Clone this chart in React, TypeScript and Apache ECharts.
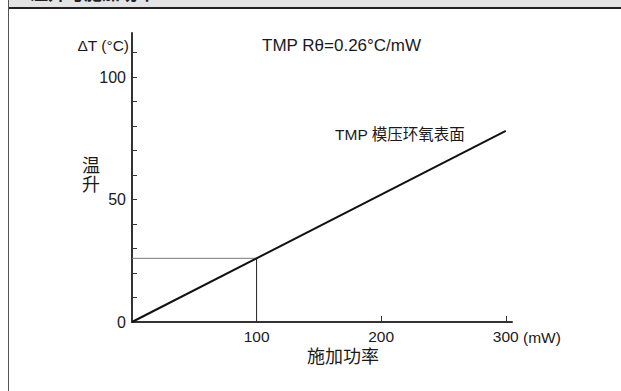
import React, { useEffect, useRef } from "react";
import * as echarts from "echarts";

const lineX: number[] = [0, 300];
const lineY: number[] = [0, 78];
const guideHX: number[] = [0, 100];
const guideHY: number[] = [26, 26];
const guideVX: number[] = [100, 100];
const guideVY: number[] = [26, 0];
const yTickValues: number[] = [0, 10, 20, 30, 40, 50, 60, 70, 80, 90, 100, 110];
const yLabelValues: number[] = [0, 50, 100];
const xTickValues: number[] = [200, 300];
const xLabelValues: number[] = [100, 200, 300];

const FONT = "'Liberation Sans', Arial, 'Noto Sans CJK SC', sans-serif";
const TXT = "#1a1a1a";

export default function App() {
  const ref = useRef<HTMLDivElement>(null);
  useEffect(() => {
    if (!ref.current) return;
    const chart = echarts.init(ref.current, null, { renderer: "svg" });
    const zip = (xs: number[], ys: number[]) => xs.map((x, i) => [x, ys[i]]);
    chart.setOption({
      animation: false,
      backgroundColor: "#ffffff",
      textStyle: { fontFamily: FONT },
      grid: { left: 132, top: 33, width: 380, height: 289, containLabel: false },
      xAxis: {
        type: "value",
        min: 0,
        max: 305,
        splitLine: { show: false },
        axisLine: { show: true, lineStyle: { color: "#333", width: 2 } },
        axisTick: { show: true, inside: true, length: 6, customValues: xTickValues, lineStyle: { color: "#333", width: 1 } },
        axisLabel: { customValues: xLabelValues, color: TXT, fontSize: 15.5, fontFamily: FONT, margin: 7 },
      },
      yAxis: {
        type: "value",
        min: 0,
        max: 118,
        splitLine: { show: false },
        axisLine: { show: true, lineStyle: { color: "#333", width: 2 } },
        axisTick: { show: true, inside: true, length: 5, customValues: yTickValues, lineStyle: { color: "#333", width: 1 } },
        axisLabel: { customValues: yLabelValues, color: TXT, fontSize: 16, fontFamily: FONT, margin: 6 },
      },
      series: [
        {
          type: "line",
          data: zip(guideHX, guideHY),
          symbol: "none",
          silent: true,
          lineStyle: { color: "#777", width: 1 },
        },
        {
          type: "line",
          data: zip(guideVX, guideVY),
          symbol: "none",
          silent: true,
          lineStyle: { color: "#222", width: 1 },
        },
        {
          type: "line",
          data: zip(lineX, lineY),
          symbol: "none",
          lineStyle: { color: "#111", width: 2 },
        },
      ],
      graphic: [
        { type: "rect", shape: { x: 8, y: 0, width: 613, height: 7 }, style: { fill: "#e4e4e4" }, silent: true },
        {
          type: "text",
          x: 30,
          y: -15.5,
          style: { text: "温升与施加功率", font: `bold 18px ${FONT}`, fill: "#222", textAlign: "left", textVerticalAlign: "top" },
        },
        { type: "line", shape: { x1: 8, y1: 8, x2: 621, y2: 8 }, style: { stroke: "#222", lineWidth: 2 }, silent: true },
        { type: "line", shape: { x1: 8.5, y1: 0, x2: 8.5, y2: 391 }, style: { stroke: "#555", lineWidth: 1 }, silent: true },
        {
          type: "text",
          x: 129,
          y: 45,
          style: { text: "ΔT (°C)", fontSize: 15.5, fontFamily: FONT, fill: TXT, textAlign: "right", textVerticalAlign: "middle" },
        },
        {
          type: "text",
          x: 262,
          y: 45,
          style: { text: "TMP Rθ=0.26°C/mW", fontSize: 17, fontFamily: FONT, fill: TXT, textAlign: "left", textVerticalAlign: "middle" },
        },
        {
          type: "text",
          x: 335,
          y: 134,
          style: { text: "TMP 模压环氧表面", fontSize: 15.5, fontFamily: FONT, fill: TXT, textAlign: "left", textVerticalAlign: "middle" },
        },
        {
          type: "text",
          x: 91,
          y: 157,
          style: { text: "温", fontSize: 18, fontFamily: FONT, fill: TXT, textAlign: "center", textVerticalAlign: "top" },
        },
        {
          type: "text",
          x: 91,
          y: 176,
          style: { text: "升", fontSize: 18, fontFamily: FONT, fill: TXT, textAlign: "center", textVerticalAlign: "top" },
        },
        {
          type: "text",
          x: 343,
          y: 357,
          style: { text: "施加功率", fontSize: 18, fontFamily: FONT, fill: TXT, textAlign: "center", textVerticalAlign: "middle" },
        },
        {
          type: "text",
          x: 523,
          y: 337,
          style: { text: "(mW)", fontSize: 15.5, fontFamily: FONT, fill: TXT, textAlign: "left", textVerticalAlign: "middle" },
        },
      ],
    });
    return () => chart.dispose();
  }, []);
  return <div ref={ref} style={{ position: "fixed", left: 0, top: 0, width: 621, height: 391 }} />;
}
